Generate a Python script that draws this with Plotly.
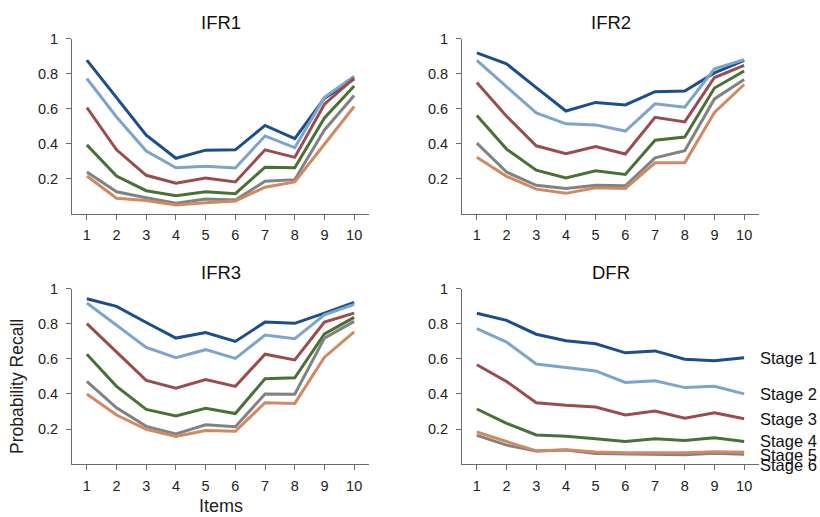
import plotly.graph_objects as go

# Serial position (item) index
items = [1, 2, 3, 4, 5, 6, 7, 8, 9, 10]
stages = ["Stage 1", "Stage 2", "Stage 3", "Stage 4", "Stage 5", "Stage 6"]
stage_colors = ["#1B4E8D", "#7DA4C9", "#9B4C4C", "#4A7135", "#828282", "#CF8A63"]

# Probability of recall per item for each stage, one list per panel
ifr1 = [
    [0.877, 0.66, 0.449, 0.318, 0.364, 0.366, 0.505, 0.43, 0.66, 0.77],
    [0.772, 0.553, 0.359, 0.264, 0.273, 0.262, 0.445, 0.378, 0.665, 0.785],
    [0.607, 0.366, 0.221, 0.176, 0.206, 0.183, 0.366, 0.323, 0.626, 0.775],
    [0.394, 0.217, 0.133, 0.105, 0.127, 0.116, 0.267, 0.264, 0.548, 0.729],
    [0.239, 0.127, 0.093, 0.062, 0.086, 0.08, 0.187, 0.196, 0.479, 0.675],
    [0.217, 0.09, 0.077, 0.052, 0.065, 0.075, 0.153, 0.183, 0.398, 0.613],
]
ifr2 = [
    [0.918, 0.856, 0.72, 0.587, 0.636, 0.622, 0.697, 0.701, 0.804, 0.875],
    [0.875, 0.725, 0.576, 0.514, 0.508, 0.473, 0.628, 0.609, 0.828, 0.88],
    [0.75, 0.557, 0.389, 0.344, 0.385, 0.342, 0.551, 0.525, 0.778, 0.847],
    [0.561, 0.37, 0.25, 0.206, 0.247, 0.226, 0.421, 0.439, 0.718, 0.815],
    [0.404, 0.239, 0.164, 0.146, 0.164, 0.161, 0.32, 0.361, 0.656, 0.766],
    [0.323, 0.215, 0.142, 0.118, 0.15, 0.146, 0.292, 0.292, 0.579, 0.738],
]
ifr3 = [
    [0.942, 0.899, 0.807, 0.718, 0.75, 0.699, 0.809, 0.802, 0.86, 0.921],
    [0.918, 0.789, 0.665, 0.607, 0.652, 0.602, 0.735, 0.714, 0.85, 0.91],
    [0.8, 0.636, 0.477, 0.432, 0.482, 0.443, 0.626, 0.594, 0.809, 0.86],
    [0.626, 0.443, 0.312, 0.275, 0.318, 0.288, 0.486, 0.492, 0.742, 0.836],
    [0.471, 0.321, 0.215, 0.172, 0.224, 0.213, 0.4, 0.398, 0.718, 0.813],
    [0.4, 0.28, 0.198, 0.157, 0.191, 0.187, 0.35, 0.346, 0.609, 0.753],
]
dfr = [
    [0.86, 0.819, 0.74, 0.703, 0.686, 0.634, 0.645, 0.598, 0.589, 0.606],
    [0.772, 0.695, 0.57, 0.551, 0.531, 0.465, 0.475, 0.436, 0.443, 0.4],
    [0.566, 0.471, 0.35, 0.335, 0.325, 0.28, 0.303, 0.262, 0.292, 0.258],
    [0.314, 0.232, 0.166, 0.159, 0.144, 0.129, 0.144, 0.135, 0.15, 0.129],
    [0.164, 0.108, 0.075, 0.08, 0.06, 0.058, 0.06, 0.054, 0.062, 0.056],
    [0.183, 0.127, 0.075, 0.082, 0.069, 0.065, 0.065, 0.065, 0.071, 0.067],
]

panel_titles = ["IFR1", "IFR2", "IFR3", "DFR"]
panels = [ifr1, ifr2, ifr3, dfr]
y_ticks = [0.2, 0.4, 0.6, 0.8, 1.0]
y_tick_text = ["0.2", "0.4", "0.6", "0.8", "1"]

W, H = 820, 517
FONT = "Liberation Sans, Arial, sans-serif"
AXIS_GREY = "#6b6b6b"

# Panel boxes in pixels: (left, right, top, bottom)
col_px = [(72, 369), (462, 759)]
row_px = [(31, 209.3), (285, 463.3)]

fig = go.Figure()
layout = dict(
    width=W, height=H,
    margin=dict(l=0, r=0, t=0, b=0),
    paper_bgcolor="white", plot_bgcolor="white",
    showlegend=False,
    font=dict(family=FONT, size=14, color="#222222"),
)

annotations = []
for i, (title, data) in enumerate(zip(panel_titles, panels)):
    r, c = divmod(i, 2)
    n = i + 1
    xa = "x" if n == 1 else f"x{n}"
    ya = "y" if n == 1 else f"y{n}"
    x0, x1 = col_px[c]
    t0, b0 = row_px[r]
    for s, (name, color, vals) in enumerate(zip(stages, stage_colors, data)):
        fig.add_trace(go.Scatter(
            x=items, y=vals, mode="lines", name=name,
            line=dict(color=color, width=3),
            xaxis=xa, yaxis=ya,
        ))
    axis_common = dict(
        showline=True, linecolor=AXIS_GREY, linewidth=1,
        showgrid=False, zeroline=False,
        ticks="outside", ticklen=5, tickcolor=AXIS_GREY, tickwidth=1,
        tickfont=dict(family=FONT, size=14.5, color="#222222"),
    )
    layout["xaxis" if n == 1 else f"xaxis{n}"] = dict(
        axis_common,
        domain=[x0 / W, x1 / W], anchor=ya,
        range=[0.5, 10.5], tickmode="array", tickvals=items,
        ticklabelstandoff=3,
    )
    layout["yaxis" if n == 1 else f"yaxis{n}"] = dict(
        axis_common,
        domain=[1 - b0 / H, 1 - t0 / H], anchor=xa,
        range=[0, 1], tickmode="array", tickvals=y_ticks, ticktext=y_tick_text,
        ticklabelstandoff=5,
    )
    annotations.append(dict(
        text=title, xref="paper", yref="paper",
        x=(x0 + x1) / 2 / W, y=1 - (t0 - 16) / H,
        xanchor="center", yanchor="middle", showarrow=False,
        font=dict(family=FONT, size=18.5, color="#111111"),
    ))

# Stage labels at the end of each DFR curve
label_shift = [0, 0, 0, 0, -1, -13]
for s, name in enumerate(stages):
    annotations.append(dict(
        text=name, xref="x4", yref="y4", x=items[-1], y=dfr[s][-1],
        xanchor="left", yanchor="middle", xshift=14, yshift=label_shift[s],
        showarrow=False, font=dict(family=FONT, size=16.5, color="#111111"),
    ))

annotations.append(dict(
    text="Items", xref="paper", yref="paper",
    x=(col_px[0][0] + col_px[0][1]) / 2 / W, y=1 - 506 / H,
    xanchor="center", yanchor="middle", showarrow=False,
    font=dict(family=FONT, size=18, color="#222222"),
))
annotations.append(dict(
    text="Probability Recall", xref="paper", yref="paper",
    x=17 / W, y=1 - 385 / H, textangle=-90,
    xanchor="center", yanchor="middle", showarrow=False,
    font=dict(family=FONT, size=17.5, color="#222222"),
))

layout["annotations"] = annotations
fig.update_layout(**layout)
fig.write_html("out.html")
